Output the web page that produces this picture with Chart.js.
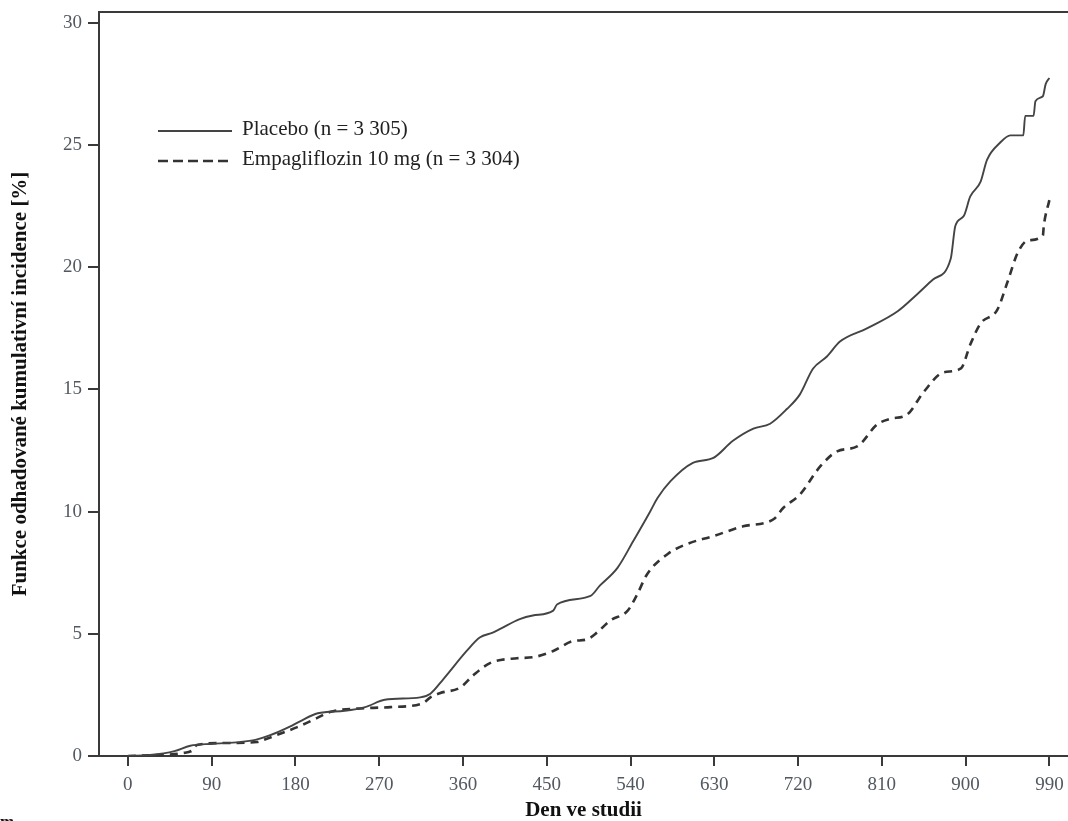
<!DOCTYPE html>
<html lang="cs">
<head>
<meta charset="utf-8">
<title>Funkce odhadované kumulativní incidence</title>
<script src="https://cdn.jsdelivr.net/npm/chart.js@4.4.0/dist/chart.umd.min.js"></script>
<style>
  html, body { margin: 0; padding: 0; background: #fff; }
  #wrap { width: 1068px; height: 821px; position: relative; }
</style>
</head>
<body>
<div id="wrap"><canvas id="graf"></canvas></div>
<script>
// Hodnoty (den ve studii -> kumulativní incidence v %)
const placeboDny = [0, 24, 50, 67, 91, 120, 137, 153, 174, 185, 204, 233, 255, 276, 314, 325, 339, 364, 378, 392,
  400, 421, 435, 457, 461, 497, 507, 526, 543, 561, 569, 583, 607, 629, 650, 672, 690, 708, 722, 736,
  751, 765, 794, 827, 848, 865, 884, 889, 898, 905, 916, 923, 937, 948, 962, 964, 973, 975, 983, 986, 990];
const placeboHodnoty = [0, 0.04, 0.2, 0.42, 0.5, 0.57, 0.66, 0.85, 1.2, 1.42, 1.75, 1.85, 2.0, 2.3, 2.4, 2.55, 3.15, 4.3, 4.85, 5.05,
  5.2, 5.6, 5.75, 5.95, 6.2, 6.55, 6.97, 7.7, 8.8, 10.0, 10.56, 11.25, 12.0, 12.2, 12.9, 13.4, 13.6, 14.2, 14.8, 15.85,
  16.35, 16.96, 17.5, 18.2, 18.9, 19.5, 20.35, 21.7, 22.1, 22.9, 23.5, 24.4, 25.1, 25.4, 25.4, 26.2, 26.2, 26.8, 27.0, 27.5, 27.75];

const empaDny = [0, 31, 59, 70, 74, 102, 139, 145, 160, 182, 203, 217, 257, 282, 317, 325, 335, 357, 371, 389,
  418, 435, 457, 478, 493, 504, 518, 537, 547, 558, 580, 601, 629, 661, 694, 704, 722, 744, 762, 784,
  805, 819, 837, 855, 876, 895, 905, 916, 934, 945, 956, 967, 983, 984, 990];
const empaHodnoty = [0, 0.04, 0.12, 0.25, 0.45, 0.53, 0.57, 0.65, 0.86, 1.18, 1.55, 1.8, 1.96, 2.0, 2.16, 2.4, 2.57, 2.8, 3.3, 3.8,
  4.0, 4.04, 4.3, 4.7, 4.77, 5.05, 5.54, 5.95, 6.6, 7.45, 8.27, 8.68, 9.0, 9.4, 9.7, 10.15, 10.7, 11.86, 12.47, 12.68,
  13.57, 13.8, 13.97, 14.9, 15.7, 15.86, 16.84, 17.7, 18.26, 19.4, 20.6, 21.1, 21.3, 21.7, 22.75];

const xTicks = [0, 90, 180, 270, 360, 450, 540, 630, 720, 810, 900, 990];
const yTicks = [0, 5, 10, 15, 20, 25, 30];
const nazvySerii = ['Placebo (n = 3 305)', 'Empagliflozin 10 mg (n = 3 304)'];

const barvaOs = '#3a3a3a';
const barvaPopisku = '#525860';
const patkove = '"Liberation Serif", "Times New Roman", serif';

function body(dny, hodnoty) {
  return dny.map((d, i) => ({ x: d, y: hodnoty[i] }));
}

// Legenda uvnitř grafu, horní okraj a useknutý text vlevo dole
const doplnky = {
  id: 'doplnky',
  afterDraw(chart) {
    const ctx = chart.ctx;
    const area = chart.chartArea;
    ctx.save();

    // horní hrana rámečku
    ctx.strokeStyle = barvaOs;
    ctx.lineWidth = 2;
    ctx.beginPath();
    ctx.moveTo(area.left - 1, area.top);
    ctx.lineTo(chart.width, area.top);
    ctx.stroke();

    // legenda
    chart.data.datasets.forEach((ds, i) => {
      const y = area.top + 119 + i * 30;
      ctx.beginPath();
      ctx.strokeStyle = ds.borderColor;
      ctx.lineWidth = i ? 2.5 : 2;
      ctx.setLineDash(i ? [10, 5] : []);
      ctx.moveTo(area.left + 59, y);
      ctx.lineTo(area.left + 133, y);
      ctx.stroke();
      ctx.setLineDash([]);
      ctx.fillStyle = '#222';
      ctx.font = '21px ' + patkove;
      ctx.textBaseline = 'middle';
      ctx.fillText(ds.label, area.left + 143, y - 2);
    });

    // zbytek useknutého textu pod grafem
    ctx.fillStyle = '#111';
    ctx.font = 'bold 17px ' + patkove;
    ctx.textBaseline = 'alphabetic';
    ctx.fillText('m', 0, 827);

    ctx.restore();
  }
};

const ctx = document.getElementById('graf').getContext('2d');

new Chart(ctx, {
  type: 'line',
  data: {
    datasets: [
      {
        label: nazvySerii[0],
        data: body(placeboDny, placeboHodnoty),
        borderColor: '#444',
        borderWidth: 1.9,
        pointRadius: 0,
        cubicInterpolationMode: 'monotone',
        fill: false
      },
      {
        label: nazvySerii[1],
        data: body(empaDny, empaHodnoty),
        borderColor: '#333',
        borderWidth: 2.6,
        borderDash: [8, 6],
        pointRadius: 0,
        cubicInterpolationMode: 'monotone',
        fill: false
      }
    ]
  },
  options: {
    responsive: true,
    maintainAspectRatio: false,
    devicePixelRatio: 1,
    animation: false,
    layout: { autoPadding: false, padding: { top: 12, right: 0, left: 0, bottom: 0 } },
    plugins: {
      legend: { display: false },
      tooltip: { enabled: false }
    },
    scales: {
      x: {
        type: 'linear',
        min: -31,
        max: 1010,
        afterBuildTicks: (scale) => { scale.ticks = xTicks.map(v => ({ value: v })); },
        afterFit: (scale) => {
          scale.height = 65;
          scale.paddingLeft = 0;
          scale.paddingRight = 0;
        },
        grid: { drawOnChartArea: false, tickLength: 10, color: barvaOs, lineWidth: 2 },
        border: { color: barvaOs, width: 2 },
        ticks: {
          autoSkip: false,
          maxRotation: 0,
          padding: 8,
          color: barvaPopisku,
          font: { family: patkove, size: 19 }
        },
        title: {
          display: true,
          text: 'Den ve studii',
          color: '#111',
          padding: { top: 0, bottom: 0 },
          font: { family: patkove, size: 21, weight: 'bold', lineHeight: 1 }
        }
      },
      y: {
        min: 0,
        max: 30.45,
        afterBuildTicks: (scale) => { scale.ticks = yTicks.map(v => ({ value: v })); },
        afterFit: (scale) => {
          scale.width = 99;
          scale.paddingTop = 0;
          scale.paddingBottom = 0;
        },
        grid: { drawOnChartArea: false, tickLength: 11, color: barvaOs, lineWidth: 2 },
        border: { color: barvaOs, width: 2 },
        ticks: {
          padding: 6,
          color: barvaPopisku,
          font: { family: patkove, size: 19 }
        },
        title: {
          display: true,
          text: 'Funkce odhadované kumulativní incidence [%]',
          color: '#111',
          padding: { top: 10, bottom: 0 },
          font: { family: patkove, size: 21, weight: 'bold', lineHeight: 1 }
        }
      }
    }
  },
  plugins: [doplnky]
});
</script>
</body>
</html>
